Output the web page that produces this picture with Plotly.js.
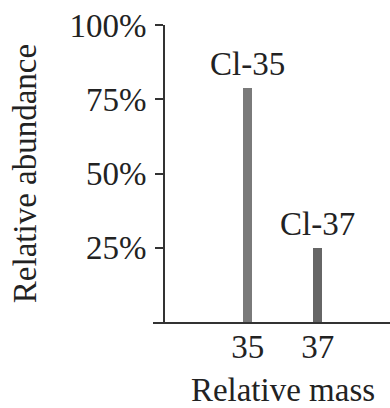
<!DOCTYPE html>
<html>
<head>
<meta charset="utf-8">
<script src="https://cdn.plot.ly/plotly-3.0.1.min.js"></script>
<style>
html, body { margin: 0; padding: 0; overflow: hidden; background: #fff; }
#chart { width: 413px; height: 408px; }
</style>
</head>
<body>
<div id="chart"></div>
<script>
// Data
const masses = [35, 37];
const abundances = [78.8, 25];
const isotopeLabels = ["Cl-35", "Cl-37"];
const yTickVals = [25, 50, 75, 100];
const yTickText = ["25%", "50%", "75%", "100%"];
const xTickVals = [35, 37];
const xTickText = ["35", "37"];

const font = { family: "Liberation Serif, Times New Roman, serif", size: 33, color: "#222" };

const trace = {
  type: "bar",
  x: masses,
  y: abundances,
  width: 0.26,
  marker: { color: ["#7a7a7a", "#666666"], line: { width: 0 } },
  hoverinfo: "skip"
};

const annotations = masses.map((m, i) => ({
  x: m, y: abundances[i], xref: "x", yref: "y",
  text: isotopeLabels[i], showarrow: false,
  xanchor: "center", yanchor: "bottom", yshift: 4,
  font: font
}));

const layout = {
  width: 413, height: 408,
  margin: { l: 153, r: 0, t: 25, b: 86 },
  paper_bgcolor: "#fff", plot_bgcolor: "#fff",
  font: font,
  showlegend: false,
  bargap: 0,
  xaxis: {
    range: [32.29, 39.72],
    showline: true, linecolor: "#333", linewidth: 2,
    showgrid: false, zeroline: false,
    ticks: "", tickvals: xTickVals, ticktext: xTickText,
    tickfont: font, ticklabelstandoff: -6,
    title: { text: "Relative mass", font: font, standoff: 14 }
  },
  yaxis: {
    range: [0, 100],
    anchor: "free", position: 0.0423,
    showline: true, linecolor: "#333", linewidth: 2,
    showgrid: false, zeroline: false,
    ticks: "outside", ticklen: 8, tickwidth: 2, tickcolor: "#333",
    tickvals: yTickVals, ticktext: yTickText,
    tickfont: font, ticklabelstandoff: 2,
    title: { text: "Relative abundance", font: font, standoff: 22 }
  },
  annotations: annotations
};

Plotly.newPlot("chart", [trace], layout, { displayModeBar: false, staticPlot: true });
</script>
</body>
</html>
